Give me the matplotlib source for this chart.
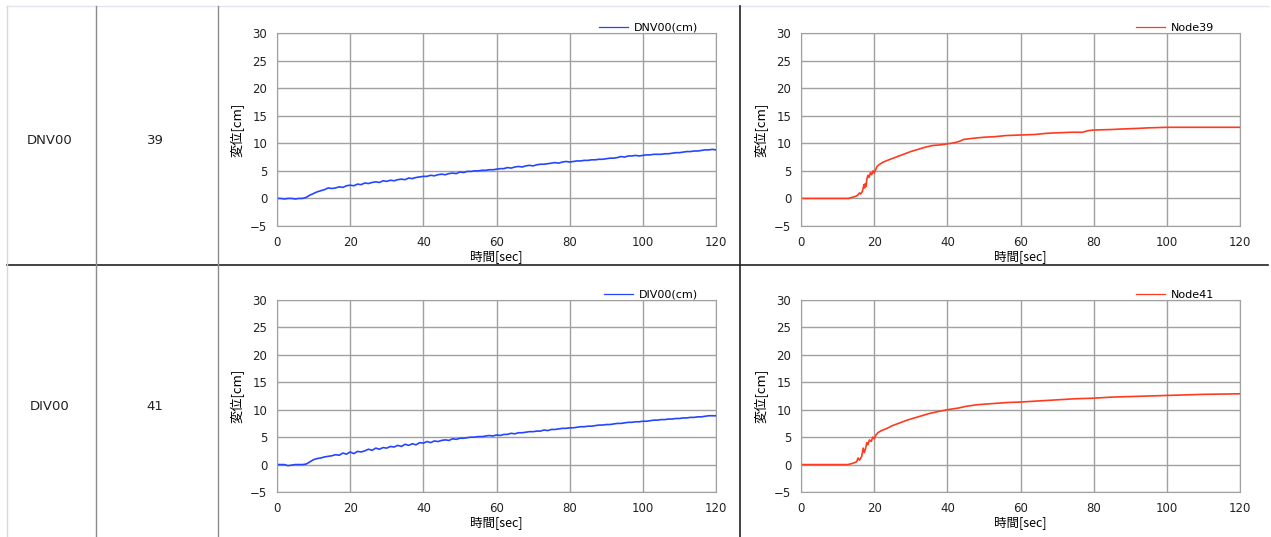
import matplotlib.pyplot as plt
from matplotlib.lines import Line2D
import numpy as np

plt.rcParams['font.family'] = ['DejaVu Sans', 'Noto Sans CJK JP']

# 行ラベル
row_names = ['DNV00', 'DIV00']
node_ids = ['39', '41']

# 観測データ (1秒刻み)
t_obs = list(range(0, 121))
dnv00 = [0.0, 0.0, -0.1, 0.0, 0.0, -0.1, 0.0, 0.0,
         0.2, 0.6, 0.9, 1.2, 1.4, 1.6, 1.9, 1.8,
         1.9, 2.1, 2.0, 2.3, 2.4, 2.3, 2.6, 2.5,
         2.8, 2.7, 2.9, 3.0, 2.9, 3.2, 3.1, 3.3,
         3.2, 3.4, 3.5, 3.4, 3.7, 3.6, 3.8, 3.9,
         4.0, 4.0, 4.2, 4.1, 4.3, 4.4, 4.3, 4.5,
         4.6, 4.5, 4.8, 4.7, 4.9, 4.9, 5.0, 5.0,
         5.1, 5.1, 5.2, 5.2, 5.3, 5.4, 5.4, 5.6,
         5.5, 5.7, 5.8, 5.7, 5.9, 6.0, 5.9, 6.1,
         6.2, 6.2, 6.3, 6.4, 6.5, 6.4, 6.6, 6.7,
         6.6, 6.7, 6.8, 6.8, 6.9, 6.9, 7.0, 7.0,
         7.1, 7.1, 7.2, 7.3, 7.3, 7.4, 7.6, 7.5,
         7.7, 7.7, 7.8, 7.7, 7.8, 7.9, 7.9, 8.0,
         8.0, 8.0, 8.1, 8.1, 8.2, 8.3, 8.3, 8.4,
         8.5, 8.5, 8.6, 8.6, 8.7, 8.8, 8.8, 8.9,
         8.8]
div00 = [0.0, 0.0, 0.0, -0.2, -0.1, 0.0, 0.0, 0.0,
         0.1, 0.5, 0.9, 1.1, 1.2, 1.4, 1.5, 1.6,
         1.8, 1.7, 2.1, 1.9, 2.3, 2.0, 2.4, 2.3,
         2.5, 2.8, 2.6, 3.0, 2.8, 3.1, 3.0, 3.3,
         3.2, 3.5, 3.3, 3.7, 3.5, 3.8, 3.6, 4.0,
         3.9, 4.2, 4.0, 4.3, 4.2, 4.4, 4.5, 4.4,
         4.7, 4.6, 4.8, 4.8, 4.9, 5.0, 5.0, 5.1,
         5.1, 5.2, 5.3, 5.2, 5.4, 5.3, 5.5, 5.5,
         5.7, 5.6, 5.8, 5.8, 5.9, 6.0, 6.0, 6.1,
         6.1, 6.3, 6.2, 6.4, 6.4, 6.5, 6.6, 6.6,
         6.7, 6.7, 6.8, 6.9, 6.9, 7.0, 7.0, 7.1,
         7.2, 7.2, 7.3, 7.3, 7.4, 7.5, 7.5, 7.6,
         7.7, 7.7, 7.8, 7.8, 7.9, 7.9, 8.0, 8.1,
         8.1, 8.2, 8.2, 8.3, 8.3, 8.4, 8.4, 8.5,
         8.5, 8.6, 8.6, 8.7, 8.7, 8.8, 8.9, 8.9,
         8.9]

# 解析結果
t_node39 = [0, 13, 14, 15, 15.5, 16, 16.3, 16.8, 17.2, 17.4, 17.6, 17.8, 18.0,
            18.3, 18.6, 19.0, 19.3, 19.7, 20.0, 20.4, 20.8, 21.5, 22.5, 24, 26,
            28, 30, 32, 34, 36, 38, 40, 42, 43.5, 44.5, 47, 50, 53, 56, 60, 64,
            67, 70, 74, 77, 78.5, 80, 85, 88, 92, 95, 100, 110, 120]
node39 = [0, 0, 0.2, 0.4, 0.6, 1.0, 0.8, 1.3, 2.5, 1.9, 2.7, 2.2, 3.5,
          4.2, 3.8, 4.7, 4.3, 5.0, 4.6, 5.2, 5.8, 6.2, 6.6, 7.0, 7.5,
          8.0, 8.5, 8.9, 9.3, 9.6, 9.7, 9.9, 10.1, 10.4, 10.7, 10.9, 11.1, 11.2, 11.4, 11.5, 11.6,
          11.8, 11.9, 12.0, 12.0, 12.3, 12.4, 12.5, 12.6, 12.7, 12.8, 12.9, 12.9, 12.9]
t_node41 = [0, 12.8, 14, 15.2, 15.6, 16.0, 16.6, 17.0, 17.3, 17.6, 18.0, 18.3,
            18.7, 19.2, 19.6, 20.0, 20.5, 21, 22, 23.5, 25, 27, 29, 31, 33, 35,
            37, 40, 43, 45, 48, 52, 56, 60, 65, 70, 75, 80, 85, 90, 95, 100,
            105, 110, 120]
node41 = [0, 0, 0.2, 0.5, 1.2, 0.8, 1.5, 3.0, 2.2, 2.8, 4.0, 3.6,
          4.5, 4.2, 5.0, 4.7, 5.4, 5.8, 6.2, 6.6, 7.1, 7.6, 8.1, 8.5, 8.9, 9.3,
          9.6, 10.0, 10.3, 10.6, 10.9, 11.1, 11.3, 11.4, 11.6, 11.8, 12.0, 12.1, 12.3, 12.4, 12.5, 12.6,
          12.7, 12.8, 12.9]

blue = '#2645ff'
red = '#ff3b1f'
grid_c = '#a0a0a0'

W, H = 1271, 537
fig = plt.figure(figsize=(W / 100, H / 100), dpi=100)


def fx(px):
    return px / W


def fy(py):
    return 1 - py / H


# 表の罫線
def hline(y, x0, x1, c, lw=1):
    fig.add_artist(Line2D([fx(x0), fx(x1)], [fy(y), fy(y)], color=c, lw=lw))


def vline(x, y0, y1, c, lw=1):
    fig.add_artist(Line2D([fx(x), fx(x)], [fy(y0), fy(y1)], color=c, lw=lw))


hline(6, 7, 1268, '#e4e4ec')
hline(265, 7, 1268, '#222222', 1.2)
vline(7, 6, 537, '#d8d8d8')
vline(96, 6, 537, '#8c8c8c')
vline(218, 6, 537, '#8c8c8c')
vline(740, 6, 537, '#222222', 1.2)

row_y = [141, 407]
for name, nid, yy in zip(row_names, node_ids, row_y):
    fig.text(fx(50), fy(yy), name, ha='center', va='center', fontsize=9.5, color='#222222')
    fig.text(fx(155), fy(yy), nid, ha='center', va='center', fontsize=9.5, color='#222222')

panels = [
    (277, 33, 226, t_obs, dnv00, blue, 'DNV00(cm)', 0.964),
    (801, 33, 226, t_node39, node39, red, 'Node39', 0.946),
    (277, 300, 492, t_obs, div00, blue, 'DIV00(cm)', 0.964),
    (801, 300, 492, t_node41, node41, red, 'Node41', 0.946),
]

for x0, ytop, ybot, t, v, col, lab, lx in panels:
    ax = fig.add_axes([fx(x0), fy(ybot), 439 / W, (ybot - ytop) / H])
    ax.plot(t, v, color=col, lw=1.2, label=lab)
    ax.set_xlim(0, 120)
    ax.set_ylim(-5, 30)
    ax.set_xticks(np.arange(0, 121, 20))
    ax.set_yticks(np.arange(-5, 31, 5))
    ax.grid(True, color=grid_c, lw=1)
    ax.set_axisbelow(True)
    for s in ax.spines.values():
        s.set_color(grid_c)
    ax.tick_params(length=0, labelsize=8.5, labelcolor='#222222', pad=7)
    ax.set_xlabel('時間[sec]', fontsize=9, labelpad=1,
                  family=['Noto Sans CJK JP', 'DejaVu Sans'])
    ax.set_ylabel('変位[cm]', fontsize=9.5, labelpad=4,
                  family=['Noto Sans CJK JP', 'DejaVu Sans'])
    leg = ax.legend(loc='lower right', bbox_to_anchor=(lx, 0.99), frameon=False,
                    fontsize=8, handlelength=2.6, handletextpad=0.5, borderpad=0.1,
                    borderaxespad=0.1)
    for ln in leg.get_lines():
        ln.set_linewidth(0.9)

fig.savefig('out.png', dpi=100)
